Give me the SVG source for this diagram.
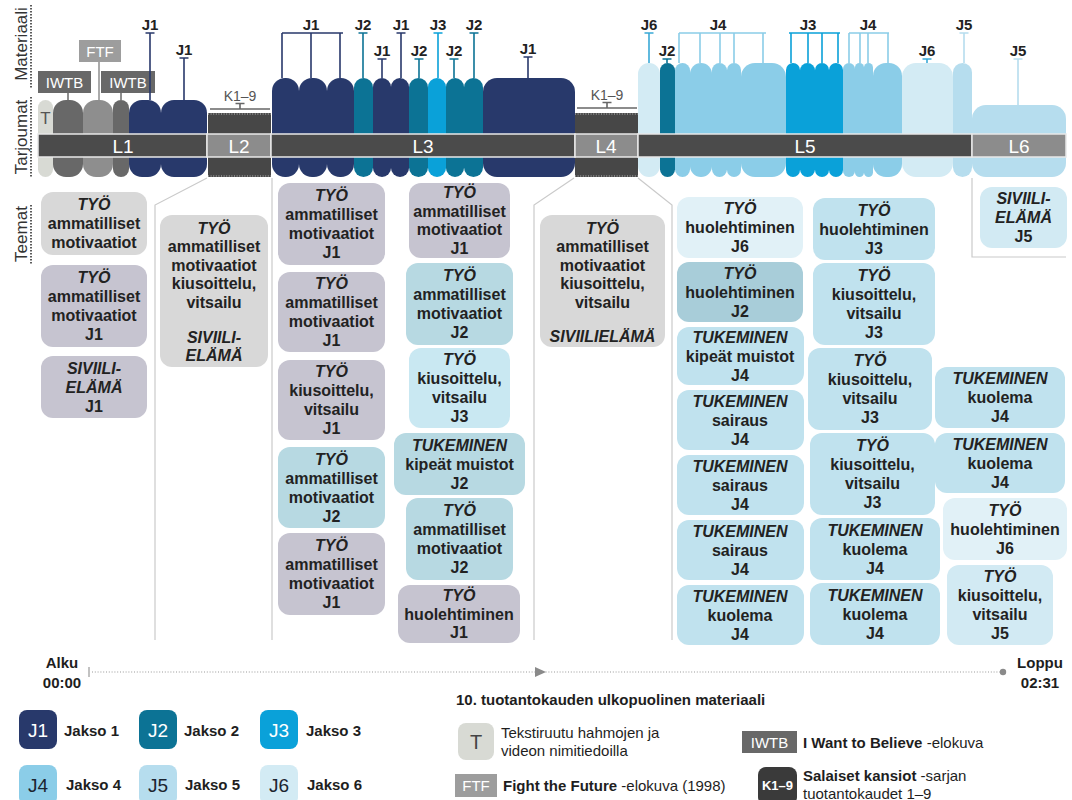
<svg xmlns="http://www.w3.org/2000/svg" width="1072" height="800" viewBox="0 0 1072 800">
<style>
  text { font-family: "Liberation Sans", Arial, sans-serif; }
  .ax { font-size: 17px; fill: #333; }
  .dotl { stroke: #333; stroke-width: 1.6; stroke-dasharray: 1.4 1.6; fill: none; }
  .sep { stroke: #cacaca; stroke-width: 1.2; fill: none; }
  .tb { font-size: 16px; font-weight: bold; fill: #222; text-anchor: middle; }
  .ti { font-style: italic; }
  .jl { font-size: 15px; font-weight: bold; fill: #222; text-anchor: middle; }
  .lb { font-size: 19px; fill: #fff; text-anchor: middle; }
  .src { font-size: 15px; fill: #fff; text-anchor: middle; }
  .k19 { font-size: 14px; fill: #555; text-anchor: middle; }
  .mk { fill: none; stroke-width: 1.6; }
  .c1 { fill: #28396b; } .s1 { stroke: #28396b; }
  .c2 { fill: #0c7395; } .s2 { stroke: #0c7395; }
  .c3 { fill: #0aa1d9; } .s3 { stroke: #0aa1d9; }
  .c4 { fill: #8bcde8; } .s4 { stroke: #8bcde8; }
  .c5 { fill: #b6ddee; } .s5 { stroke: #b6ddee; }
  .c6 { fill: #d3ebf4; } .s6 { stroke: #3aa9d6; }
  .cT { fill: #d8dad4; }
  .cIW { fill: #686868; }
  .cFT { fill: #8e8e8e; }
  .tex { fill: #474747; }
  .texe { stroke: #9a9a9a; stroke-width: 1.4; stroke-dasharray: 1 1.6; fill: none; }
  .bar { fill: #4b4b4b; stroke: #e8e8e8; stroke-width: 1.5; }
  .barl { fill: #8c8c8c; stroke: #e8e8e8; stroke-width: 1.5; }
  .g0 { fill: #d8d8d8; }
  .lav { fill: #c6c4d0; }
  .b2 { fill: #b7d9e2; }
  .b2d { fill: #a8cdd9; }
  .b3 { fill: #c9e8f2; }
  .b4 { fill: #c0e2ee; }
  .b5 { fill: #d2eaf3; }
  .b6 { fill: #e1f1f7; }
  .lg { font-size: 15px; fill: #1e1e1e; }
  .lgb { font-size: 15px; font-weight: bold; fill: #1e1e1e; }
</style>

<!-- axis captions with dotted rules -->
<g id="axis-labels">
  <text class="ax" transform="translate(27,44) rotate(-90)" text-anchor="middle">Materiaali</text>
  <text class="ax" transform="translate(27,137) rotate(-90)" text-anchor="middle">Tarjoumat</text>
  <text class="ax" transform="translate(27,234) rotate(-90)" text-anchor="middle">Teemat</text>
  <line class="dotl" x1="31" y1="5" x2="31" y2="88"/>
  <line class="dotl" x1="31" y1="97" x2="31" y2="178"/>
  <line class="dotl" x1="31" y1="205" x2="31" y2="264"/>
</g>

<!-- separators between offering segments and theme columns -->
<g id="connectors">
  <polyline class="sep" points="207,178 155,205 155,640"/>
  <polyline class="sep" points="272,178 272,640"/>
  <polyline class="sep" points="574,178 534,205 534,640"/>
  <polyline class="sep" points="638,178 672,205 672,640"/>
  <polyline class="sep" points="972,178 972,257 1066,257"/>
</g>

<!-- L1 offering: clips -->
<g id="offer-L1">
  <rect class="cT" x="38" y="100" width="15" height="77" rx="7.5"/>
  <rect class="cIW" x="53" y="100" width="30" height="77" rx="13"/>
  <rect class="cFT" x="83" y="100" width="30" height="77" rx="13"/>
  <rect class="cIW" x="113" y="100" width="16" height="77" rx="8"/>
  <rect class="c1" x="129" y="100" width="32" height="77" rx="13"/>
  <rect class="c1" x="161" y="100" width="46" height="77" rx="13"/>
  <text x="45.5" y="124" font-size="17" fill="#555" text-anchor="middle">T</text>
</g>

<!-- L2 / L4: earlier seasons -->
<g id="offer-L2">
  <rect class="tex" x="208" y="113" width="63" height="64"/>
  <line class="texe" x1="208" y1="114" x2="271" y2="114"/>
  <line class="texe" x1="208" y1="176" x2="271" y2="176"/>
  <line x1="210" y1="109" x2="270" y2="109" stroke="#666" stroke-width="1.5"/>
  <path class="mk" d="M240 103.5 V109 M235.5 103.5 H244.5" stroke="#666"/>
  <text class="k19" x="240" y="101">K1–9</text>
</g>
<g id="offer-L4">
  <rect class="tex" x="575" y="113" width="63" height="64"/>
  <line class="texe" x1="575" y1="114" x2="638" y2="114"/>
  <line class="texe" x1="575" y1="176" x2="638" y2="176"/>
  <line x1="577" y1="108" x2="637" y2="108" stroke="#666" stroke-width="1.5"/>
  <path class="mk" d="M607 102.5 V108 M602.5 102.5 H611.5" stroke="#666"/>
  <text class="k19" x="607" y="100">K1–9</text>
</g>

<!-- L3 offering -->
<g id="offer-L3">
  <rect class="c1" x="272" y="78" width="27" height="99" rx="13"/>
  <rect class="c1" x="299" y="78" width="28" height="99" rx="13"/>
  <rect class="c1" x="327" y="78" width="27" height="99" rx="13"/>
  <rect class="c2" x="354" y="78" width="19" height="99" rx="9.5"/>
  <rect class="c1" x="373" y="78" width="18" height="99" rx="9"/>
  <rect class="c1" x="391" y="78" width="18" height="99" rx="9"/>
  <rect class="c2" x="409" y="78" width="19" height="99" rx="9.5"/>
  <rect class="c3" x="428" y="78" width="18" height="99" rx="9"/>
  <rect class="c2" x="446" y="78" width="18" height="99" rx="9"/>
  <rect class="c2" x="464" y="78" width="19" height="99" rx="9.5"/>
  <rect class="c1" x="483" y="78" width="92" height="99" rx="14"/>
</g>

<!-- L5 offering -->
<g id="offer-L5">
  <rect class="c6" x="638" y="63" width="22" height="114" rx="11"/>
  <rect class="c2" x="660" y="63" width="15" height="114" rx="7.5"/>
  <rect class="c4" x="675" y="63" width="15" height="114" rx="7.5"/>
  <rect class="c4" x="690" y="63" width="22" height="114" rx="11"/>
  <rect class="c4" x="712" y="63" width="15" height="114" rx="7.5"/>
  <rect class="c4" x="727" y="63" width="14" height="114" rx="7"/>
  <rect class="c4" x="741" y="63" width="45" height="114" rx="14"/>
  <rect class="c3" x="786" y="63" width="14" height="114" rx="7"/>
  <rect class="c3" x="800" y="63" width="15" height="114" rx="7.5"/>
  <rect class="c3" x="815" y="63" width="14" height="114" rx="7"/>
  <rect class="c3" x="829" y="63" width="14" height="114" rx="7"/>
  <rect class="c4" x="843" y="63" width="12" height="114" rx="6"/>
  <rect class="c4" x="855" y="63" width="9" height="114" rx="4.5"/>
  <rect class="c4" x="864" y="63" width="9" height="114" rx="4.5"/>
  <rect class="c4" x="873" y="63" width="29" height="114" rx="13"/>
  <rect class="c6" x="902" y="63" width="51" height="114" rx="14"/>
  <rect class="c5" x="953" y="63" width="19" height="114" rx="9.5"/>
</g>

<!-- L6 offering -->
<g id="offer-L6">
  <rect class="c5" x="972" y="105" width="94" height="72" rx="14"/>
</g>

<!-- segment bar -->
<g id="segment-bar">
  <rect class="bar" x="38" y="134" width="169" height="23"/>
  <rect class="barl" x="207" y="134" width="64" height="23"/>
  <rect class="bar" x="271" y="134" width="304" height="23"/>
  <rect class="barl" x="575" y="134" width="63" height="23"/>
  <rect class="bar" x="638" y="134" width="334" height="23"/>
  <rect class="barl" x="972" y="134" width="94" height="23"/>
  <text class="lb" x="123" y="152.5">L1</text>
  <text class="lb" x="239" y="152.5">L2</text>
  <text class="lb" x="423" y="152.5">L3</text>
  <text class="lb" x="606" y="152.5">L4</text>
  <text class="lb" x="805" y="152.5">L5</text>
  <text class="lb" x="1019" y="152.5">L6</text>
</g>

<!-- material sources of the L1 clips -->
<g id="material-L1">
  <rect class="cIW" x="38" y="71" width="53" height="22"/>
  <text class="src" x="64.5" y="87.5">IWTB</text>
  <rect x="79" y="40" width="42" height="22" fill="#9d9d9d"/>
  <text class="src" x="100" y="56.5">FTF</text>
  <rect class="cIW" x="101" y="71" width="54" height="22"/>
  <text class="src" x="128" y="87.5">IWTB</text>
  <line x1="68" y1="93" x2="68" y2="100" stroke="#686868" stroke-width="1.5"/>
  <line x1="99" y1="62" x2="99" y2="100" stroke="#8e8e8e" stroke-width="1.5"/>
  <line x1="121" y1="93" x2="121" y2="100" stroke="#686868" stroke-width="1.5"/>
  <path class="mk s1" d="M150 33 V100 M145.5 33 H154.5"/>
  <text class="jl" x="150" y="30">J1</text>
  <path class="mk s1" d="M184 58 V100 M179.5 58 H188.5"/>
  <text class="jl" x="184" y="55">J1</text>
</g>

<!-- material markers of the L3 clips -->
<g id="material-L3">
  <path class="mk s1" d="M282 33 H343 M282 33 V78 M311 33 V78 M340 33 V78"/>
  <text class="jl" x="311" y="30">J1</text>
  <path class="mk s2" d="M363 33 V78 M358.5 33 H367.5"/>
  <text class="jl" x="363" y="30">J2</text>
  <path class="mk s1" d="M382 59 V78 M377.5 59 H386.5"/>
  <text class="jl" x="382" y="56">J1</text>
  <path class="mk s1" d="M401 33 V78 M396.5 33 H405.5"/>
  <text class="jl" x="401" y="30">J1</text>
  <path class="mk s2" d="M419 59 V78 M414.5 59 H423.5"/>
  <text class="jl" x="419" y="56">J2</text>
  <path class="mk s3" d="M438 33 V78 M433.5 33 H442.5"/>
  <text class="jl" x="438" y="30">J3</text>
  <path class="mk s2" d="M454 59 V78 M449.5 59 H458.5"/>
  <text class="jl" x="454" y="56">J2</text>
  <path class="mk s2" d="M474 33 V78 M469.5 33 H478.5"/>
  <text class="jl" x="474" y="30">J2</text>
  <path class="mk s1" d="M528 57 V78 M523.5 57 H532.5"/>
  <text class="jl" x="528" y="54">J1</text>
</g>

<!-- material markers of the L5 and L6 clips -->
<g id="material-L5">
  <path class="mk s6" d="M649 33 V63 M644.5 33 H653.5"/>
  <text class="jl" x="649" y="30">J6</text>
  <path class="mk s2" d="M667 59 V63 M662.5 59 H671.5"/>
  <text class="jl" x="667" y="56">J2</text>
  <path class="mk s4" d="M679 33 H766 M679 33 V63 M700 33 V63 M720 33 V63 M734 33 V63 M763 33 V63"/>
  <text class="jl" x="718" y="30">J4</text>
  <path class="mk s3" d="M789 33 H840 M791 33 V63 M808 33 V63 M822 33 V63 M838 33 V63"/>
  <text class="jl" x="808" y="30">J3</text>
  <path class="mk s4" d="M849 33 H889 M849 33 V63 M860 33 V63 M868 33 V63 M888 33 V63"/>
  <text class="jl" x="868" y="30">J4</text>
  <path class="mk s6" d="M927 59 V63 M922.5 59 H931.5"/>
  <text class="jl" x="927" y="56">J6</text>
  <path class="mk s5" d="M964 33 V63 M959.5 33 H968.5"/>
  <text class="jl" x="964" y="30">J5</text>
  <path class="mk s5" d="M1018 59 V105 M1013.5 59 H1022.5"/>
  <text class="jl" x="1018" y="56">J5</text>
</g>

<!-- theme boxes, column L1 -->
<g id="theme-L1-a"><rect class="g0" x="41" y="192" width="106" height="63" rx="12"/>
  <text class="tb ti" x="94" y="210">TYÖ</text><text class="tb" x="94" y="229">ammatilliset</text><text class="tb" x="94" y="248">motivaatiot</text></g>
<g id="theme-L1-b"><rect class="lav" x="41" y="265" width="106" height="82" rx="12"/>
  <text class="tb ti" x="94" y="283">TYÖ</text><text class="tb" x="94" y="302">ammatilliset</text><text class="tb" x="94" y="321">motivaatiot</text><text class="tb" x="94" y="340">J1</text></g>
<g id="theme-L1-c"><rect class="lav" x="41" y="356" width="106" height="62" rx="12"/>
  <text class="tb ti" x="94" y="373.5">SIVIILI-</text><text class="tb ti" x="94" y="392.5">ELÄMÄ</text><text class="tb" x="94" y="411.5">J1</text></g>

<!-- column L2 -->
<g id="theme-L2"><rect class="g0" x="160" y="215" width="108" height="152" rx="12"/>
  <text class="tb ti" x="214" y="233.5">TYÖ</text><text class="tb" x="214" y="252">ammatilliset</text><text class="tb" x="214" y="270.5">motivaatiot</text><text class="tb" x="214" y="289">kiusoittelu,</text><text class="tb" x="214" y="307.5">vitsailu</text>
  <text class="tb ti" x="214" y="343">SIVIILI-</text><text class="tb ti" x="214" y="360.5">ELÄMÄ</text></g>

<!-- column L3, left -->
<g id="theme-L3-a1"><rect class="lav" x="278" y="183" width="107" height="82" rx="12"/>
  <text class="tb ti" x="331.5" y="201">TYÖ</text><text class="tb" x="331.5" y="220">ammatilliset</text><text class="tb" x="331.5" y="239">motivaatiot</text><text class="tb" x="331.5" y="258">J1</text></g>
<g id="theme-L3-a2"><rect class="lav" x="278" y="272" width="107" height="80" rx="12"/>
  <text class="tb ti" x="331.5" y="289">TYÖ</text><text class="tb" x="331.5" y="308">ammatilliset</text><text class="tb" x="331.5" y="327">motivaatiot</text><text class="tb" x="331.5" y="346">J1</text></g>
<g id="theme-L3-a3"><rect class="lav" x="278" y="360" width="107" height="80" rx="12"/>
  <text class="tb ti" x="331.5" y="377">TYÖ</text><text class="tb" x="331.5" y="396">kiusoittelu,</text><text class="tb" x="331.5" y="415">vitsailu</text><text class="tb" x="331.5" y="434">J1</text></g>
<g id="theme-L3-a4"><rect class="b2" x="278" y="447" width="107" height="81" rx="12"/>
  <text class="tb ti" x="331.5" y="464.5">TYÖ</text><text class="tb" x="331.5" y="483.5">ammatilliset</text><text class="tb" x="331.5" y="502.5">motivaatiot</text><text class="tb" x="331.5" y="521.5">J2</text></g>
<g id="theme-L3-a5"><rect class="lav" x="278" y="533" width="107" height="82" rx="12"/>
  <text class="tb ti" x="331.5" y="551">TYÖ</text><text class="tb" x="331.5" y="570">ammatilliset</text><text class="tb" x="331.5" y="589">motivaatiot</text><text class="tb" x="331.5" y="608">J1</text></g>

<!-- column L3, right -->
<g id="theme-L3-b1"><rect class="lav" x="409" y="183" width="101" height="75" rx="12"/>
  <text class="tb ti" x="459.5" y="198">TYÖ</text><text class="tb" x="459.5" y="216.5">ammatilliset</text><text class="tb" x="459.5" y="235">motivaatiot</text><text class="tb" x="459.5" y="253.5">J1</text></g>
<g id="theme-L3-b2"><rect class="b2" x="406" y="263" width="107" height="82" rx="12"/>
  <text class="tb ti" x="459.5" y="281">TYÖ</text><text class="tb" x="459.5" y="300">ammatilliset</text><text class="tb" x="459.5" y="319">motivaatiot</text><text class="tb" x="459.5" y="338">J2</text></g>
<g id="theme-L3-b3"><rect class="b3" x="409" y="348" width="101" height="80" rx="12"/>
  <text class="tb ti" x="459.5" y="365">TYÖ</text><text class="tb" x="459.5" y="384">kiusoittelu,</text><text class="tb" x="459.5" y="403">vitsailu</text><text class="tb" x="459.5" y="422">J3</text></g>
<g id="theme-L3-b4"><rect class="b2" x="394" y="433" width="131" height="62" rx="12"/>
  <text class="tb ti" x="459.5" y="450.5">TUKEMINEN</text><text class="tb" x="459.5" y="469.5">kipeät muistot</text><text class="tb" x="459.5" y="488.5">J2</text></g>
<g id="theme-L3-b5"><rect class="b2" x="406" y="498" width="107" height="82" rx="12"/>
  <text class="tb ti" x="459.5" y="516">TYÖ</text><text class="tb" x="459.5" y="535">ammatilliset</text><text class="tb" x="459.5" y="554">motivaatiot</text><text class="tb" x="459.5" y="573">J2</text></g>
<g id="theme-L3-b6"><rect class="lav" x="398" y="585" width="122" height="58" rx="12"/>
  <text class="tb ti" x="459" y="600.5">TYÖ</text><text class="tb" x="459" y="619.5">huolehtiminen</text><text class="tb" x="459" y="638">J1</text></g>

<!-- column L4 -->
<g id="theme-L4"><rect class="g0" x="540" y="215" width="125" height="132" rx="12"/>
  <text class="tb ti" x="602.5" y="233.5">TYÖ</text><text class="tb" x="602.5" y="252">ammatilliset</text><text class="tb" x="602.5" y="270.5">motivaatiot</text><text class="tb" x="602.5" y="289">kiusoittelu,</text><text class="tb" x="602.5" y="307.5">vitsailu</text>
  <text class="tb ti" x="602.5" y="342">SIVIILIELÄMÄ</text></g>

<!-- column L5, first -->
<g id="theme-L5-a1"><rect class="b6" x="677" y="197" width="126" height="61" rx="12"/>
  <text class="tb ti" x="740" y="214">TYÖ</text><text class="tb" x="740" y="233">huolehtiminen</text><text class="tb" x="740" y="252">J6</text></g>
<g id="theme-L5-a2"><rect class="b2d" x="677" y="262" width="126" height="60" rx="12"/>
  <text class="tb ti" x="740" y="278.5">TYÖ</text><text class="tb" x="740" y="297.5">huolehtiminen</text><text class="tb" x="740" y="316.5">J2</text></g>
<g id="theme-L5-a3"><rect class="b4" x="677" y="327" width="127" height="58" rx="12"/>
  <text class="tb ti" x="740" y="342.5">TUKEMINEN</text><text class="tb" x="740" y="361.5">kipeät muistot</text><text class="tb" x="740" y="380.5">J4</text></g>
<g id="theme-L5-a4"><rect class="b4" x="677" y="390" width="127" height="60" rx="12"/>
  <text class="tb ti" x="740" y="406.5">TUKEMINEN</text><text class="tb" x="740" y="425.5">sairaus</text><text class="tb" x="740" y="444.5">J4</text></g>
<g id="theme-L5-a5"><rect class="b4" x="677" y="455" width="127" height="60" rx="12"/>
  <text class="tb ti" x="740" y="471.5">TUKEMINEN</text><text class="tb" x="740" y="490.5">sairaus</text><text class="tb" x="740" y="509.5">J4</text></g>
<g id="theme-L5-a6"><rect class="b4" x="677" y="520" width="127" height="60" rx="12"/>
  <text class="tb ti" x="740" y="536.5">TUKEMINEN</text><text class="tb" x="740" y="555.5">sairaus</text><text class="tb" x="740" y="574.5">J4</text></g>
<g id="theme-L5-a7"><rect class="b4" x="677" y="585" width="127" height="60" rx="12"/>
  <text class="tb ti" x="740" y="601.5">TUKEMINEN</text><text class="tb" x="740" y="620.5">kuolema</text><text class="tb" x="740" y="639.5">J4</text></g>

<!-- column L5, second -->
<g id="theme-L5-b1"><rect class="b4" x="813" y="198" width="122" height="62" rx="12"/>
  <text class="tb ti" x="874" y="215.5">TYÖ</text><text class="tb" x="874" y="234.5">huolehtiminen</text><text class="tb" x="874" y="253.5">J3</text></g>
<g id="theme-L5-b2"><rect class="b4" x="813" y="263" width="122" height="82" rx="12"/>
  <text class="tb ti" x="874" y="281">TYÖ</text><text class="tb" x="874" y="300">kiusoittelu,</text><text class="tb" x="874" y="319">vitsailu</text><text class="tb" x="874" y="338">J3</text></g>
<g id="theme-L5-b3"><rect class="b4" x="808" y="348" width="124" height="82" rx="12"/>
  <text class="tb ti" x="870" y="366">TYÖ</text><text class="tb" x="870" y="385">kiusoittelu,</text><text class="tb" x="870" y="404">vitsailu</text><text class="tb" x="870" y="423">J3</text></g>
<g id="theme-L5-b4"><rect class="b4" x="810" y="433" width="125" height="82" rx="12"/>
  <text class="tb ti" x="872.5" y="451">TYÖ</text><text class="tb" x="872.5" y="470">kiusoittelu,</text><text class="tb" x="872.5" y="489">vitsailu</text><text class="tb" x="872.5" y="508">J3</text></g>
<g id="theme-L5-b5"><rect class="b4" x="810" y="518" width="130" height="62" rx="12"/>
  <text class="tb ti" x="875" y="535.5">TUKEMINEN</text><text class="tb" x="875" y="554.5">kuolema</text><text class="tb" x="875" y="573.5">J4</text></g>
<g id="theme-L5-b6"><rect class="b4" x="810" y="583" width="130" height="62" rx="12"/>
  <text class="tb ti" x="875" y="600.5">TUKEMINEN</text><text class="tb" x="875" y="619.5">kuolema</text><text class="tb" x="875" y="638.5">J4</text></g>

<!-- column L5, third -->
<g id="theme-L5-c1"><rect class="b4" x="935" y="367" width="130" height="61" rx="12"/>
  <text class="tb ti" x="1000" y="384">TUKEMINEN</text><text class="tb" x="1000" y="403">kuolema</text><text class="tb" x="1000" y="422">J4</text></g>
<g id="theme-L5-c2"><rect class="b4" x="935" y="433" width="130" height="60" rx="12"/>
  <text class="tb ti" x="1000" y="449.5">TUKEMINEN</text><text class="tb" x="1000" y="468.5">kuolema</text><text class="tb" x="1000" y="487.5">J4</text></g>
<g id="theme-L5-c3"><rect class="b6" x="943" y="498" width="124" height="62" rx="12"/>
  <text class="tb ti" x="1005" y="515.5">TYÖ</text><text class="tb" x="1005" y="534.5">huolehtiminen</text><text class="tb" x="1005" y="553.5">J6</text></g>
<g id="theme-L5-c4"><rect class="b5" x="947" y="565" width="106" height="80" rx="12"/>
  <text class="tb ti" x="1000" y="582">TYÖ</text><text class="tb" x="1000" y="601">kiusoittelu,</text><text class="tb" x="1000" y="620">vitsailu</text><text class="tb" x="1000" y="639">J5</text></g>

<!-- column L6 -->
<g id="theme-L6"><rect class="b5" x="980" y="187" width="87" height="61" rx="12"/>
  <text class="tb ti" x="1023.5" y="204">SIVIILI-</text><text class="tb ti" x="1023.5" y="223">ELÄMÄ</text><text class="tb" x="1023.5" y="242">J5</text></g>

<!-- time axis -->
<g id="timeline">
  <line x1="89" y1="667" x2="89" y2="677" stroke="#999" stroke-width="1.2"/>
  <line x1="92" y1="672" x2="1002" y2="672" stroke="#9a9a9a" stroke-width="1.2" stroke-dasharray="1 1.8"/>
  <path d="M535 667 L546 672 L535 677 Z" fill="#8a8a8a"/>
  <circle cx="1003" cy="672" r="3.2" fill="#8a8a8a"/>
  <text class="lgb" x="62" y="668" text-anchor="middle">Alku</text>
  <text class="lgb" x="62" y="688" text-anchor="middle">00:00</text>
  <text class="lgb" x="1040" y="668" text-anchor="middle">Loppu</text>
  <text class="lgb" x="1040" y="688" text-anchor="middle">02:31</text>
</g>

<!-- legend: episodes -->
<g id="legend-episodes">
  <rect class="c1" x="19" y="710" width="38" height="39" rx="8"/><text x="38" y="737" font-size="19" fill="#fff" text-anchor="middle">J1</text>
  <text class="lgb" x="64" y="736">Jakso 1</text>
  <rect class="c2" x="139" y="710" width="38" height="39" rx="8"/><text x="158" y="737" font-size="19" fill="#fff" text-anchor="middle">J2</text>
  <text class="lgb" x="184" y="736">Jakso 2</text>
  <rect class="c3" x="260" y="710" width="38" height="39" rx="8"/><text x="279" y="737" font-size="19" fill="#fff" text-anchor="middle">J3</text>
  <text class="lgb" x="306" y="736">Jakso 3</text>
  <rect class="c4" x="19" y="765" width="38" height="40" rx="8"/><text x="38" y="792" font-size="19" fill="#1b2430" text-anchor="middle">J4</text>
  <text class="lgb" x="66" y="790">Jakso 4</text>
  <rect class="c5" x="139" y="765" width="38" height="40" rx="8"/><text x="158" y="792" font-size="19" fill="#1b2430" text-anchor="middle">J5</text>
  <text class="lgb" x="185" y="790">Jakso 5</text>
  <rect class="c6" x="260" y="765" width="38" height="40" rx="8"/><text x="279" y="792" font-size="19" fill="#1b2430" text-anchor="middle">J6</text>
  <text class="lgb" x="307" y="790">Jakso 6</text>
</g>

<!-- legend: outside material -->
<g id="legend-sources">
  <text class="lgb" x="456" y="705">10. tuotantokauden ulkopuolinen materiaali</text>
  <rect class="cT" x="458" y="723" width="36" height="37" rx="8"/>
  <text x="476" y="749" font-size="20" fill="#444" text-anchor="middle">T</text>
  <text class="lg" x="501" y="738" fill="#333">Tekstiruutu hahmojen ja</text>
  <text class="lg" x="501" y="756" fill="#333">videon nimitiedoilla</text>
  <rect class="cIW" x="742" y="731" width="55" height="22"/>
  <text class="src" x="769.5" y="747.5">IWTB</text>
  <text class="lg" x="803" y="748"><tspan font-weight="bold">I Want to Believe</tspan> -elokuva</text>
  <rect x="455" y="774" width="42" height="23" fill="#9d9d9d"/>
  <text class="src" x="476" y="791">FTF</text>
  <text class="lg" x="503" y="791"><tspan font-weight="bold">Fight the Future</tspan> -elokuva (1998)</text>
  <rect x="758" y="767" width="39" height="38" rx="8" fill="#3a3a3a"/>
  <text x="777.5" y="790" font-size="13" font-weight="bold" fill="#fff" text-anchor="middle">K1–9</text>
  <text class="lg" x="803" y="781"><tspan font-weight="bold">Salaiset kansiot</tspan> -sarjan</text>
  <text class="lg" x="803" y="799">tuotantokaudet 1–9</text>
</g>
</svg>
